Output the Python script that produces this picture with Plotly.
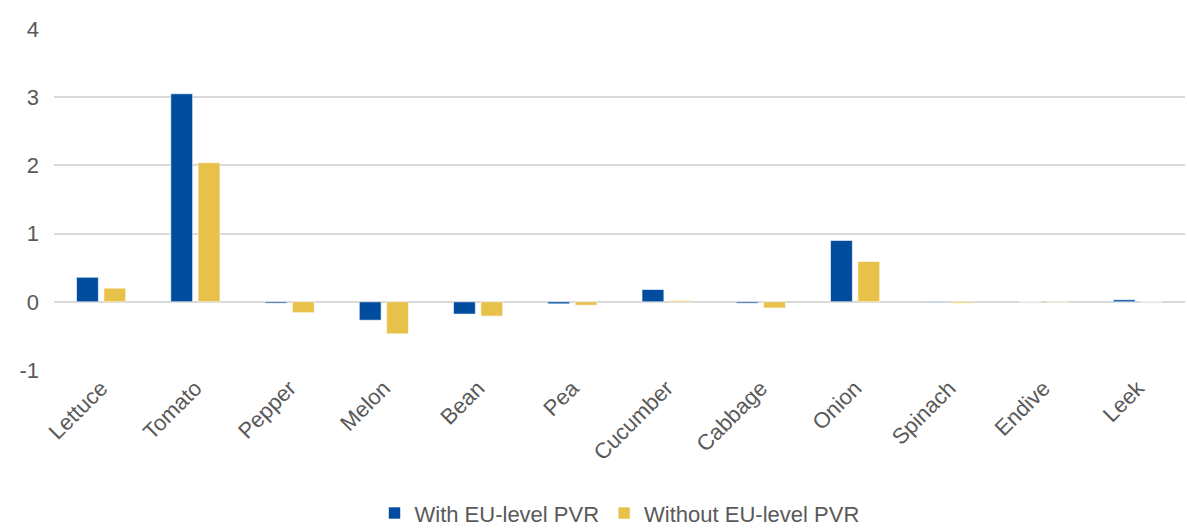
import plotly.graph_objects as go

categories = ["Lettuce", "Tomato", "Pepper", "Melon", "Bean", "Pea", "Cucumber",
              "Cabbage", "Onion", "Spinach", "Endive", "Leek"]
with_pvr = [0.36, 3.05, -0.02, -0.27, -0.18, -0.03, 0.18, -0.02, 0.90, -0.01, 0.0, 0.03]
without_pvr = [0.20, 2.04, -0.16, -0.47, -0.21, -0.05, 0.02, -0.09, 0.59, -0.02, -0.01, 0.0]
y_ticks = [-1, 0, 1, 2, 3, 4]
y_tick_labels = ["-1", "0", "1", "2", "3", "4"]

BLUE = "#004C9F"
YELLOW = "#E8C14A"
FONT = "Liberation Sans, Arial, sans-serif"

fig = go.Figure()
fig.add_trace(go.Bar(x=categories, y=with_pvr, name="With EU-level PVR",
                     marker=dict(color=BLUE, line=dict(color="rgba(255,255,255,0.6)", width=1))))
fig.add_trace(go.Bar(x=categories, y=without_pvr, name="Without EU-level PVR",
                     marker=dict(color=YELLOW, line=dict(color="rgba(255,255,255,0.6)", width=1))))

fig.update_layout(
    width=1187, height=529,
    margin=dict(l=54, r=2, t=29, b=159, autoexpand=False),
    plot_bgcolor="white", paper_bgcolor="white",
    barmode="group", bargap=0.42, bargroupgap=0.2,
    font=dict(family=FONT, size=22, color="#595959"),
    showlegend=True,
    legend=dict(orientation="h", x=0.5, xanchor="center", y=-0.42, yanchor="middle",
                font=dict(size=22, color="#595959"), itemwidth=30, traceorder="normal"),
)
fig.update_xaxes(tickangle=-45, showgrid=False, showline=False, ticks="", automargin=False,
                 tickfont=dict(size=22, color="#595959"))
fig.update_yaxes(range=[-1, 4], tickvals=y_ticks, ticktext=y_tick_labels, showgrid=True,
                 gridcolor="#D9D9D9", automargin=False,
                 gridwidth=1.5, zeroline=True, zerolinecolor="#D9D9D9", zerolinewidth=1.5,
                 showline=False, ticks="", ticklabelstandoff=14,
                 tickfont=dict(size=22, color="#595959"))

fig.write_html("out.html", config={"displayModeBar": False},
               post_script="document.body.style.margin='0';document.body.style.overflow='hidden';")
